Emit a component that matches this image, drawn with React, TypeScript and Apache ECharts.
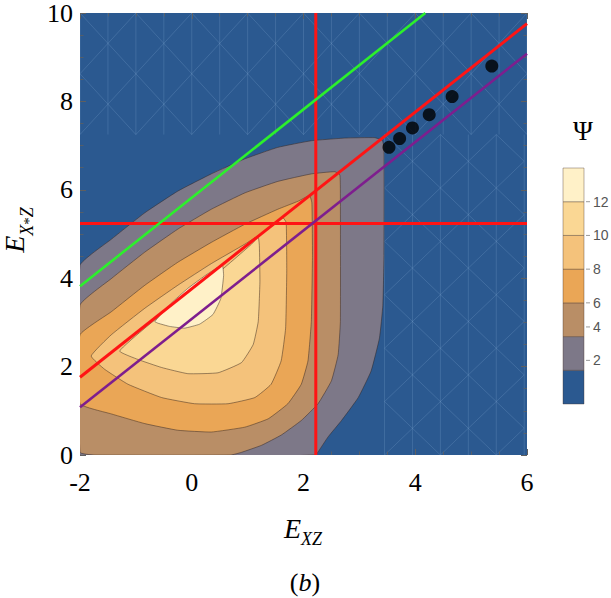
import React, { useEffect, useRef } from "react";
import * as echarts from "echarts";

// ---- axes ----
const xRange = [-2, 6];
const yRange = [0, 10];
const tickStep = 2;

// ---- filled contour bands of Ψ (outermost band = background) ----
const bandColors = ["#2B5990", "#7D7888", "#B98E66", "#EAA656", "#F4C27B", "#FAD794", "#FFF1C8"];
const contourLevels = [1.5, 3.2, 6, 8, 10, 12];
const legendTicks = [2, 4, 6, 8, 10, 12];

// closed boundaries (E_XZ, E_X*Z) of the superlevel sets, one per contour level
const regionLevel1: [number, number][] = [
  [-2, 0], [-2, 4.29], [-1.44, 4.88], [-0.84, 5.48], [-0.25, 5.97], [0.35, 6.36], [0.95, 6.7],
  [1.54, 6.96], [2.14, 7.11], [2.74, 7.17], [3.27, 7.18], [3.41, 7.12], [3.44, 6.94],
  [3.44, 4.51], [3.42, 3.39], [3.36, 2.65], [3.21, 1.9], [2.98, 1.3], [2.68, 0.78],
  [2.44, 0.41], [2.26, 0.07], [2.21, 0],
];
const regionLevel2: [number, number][] = [
  [-2, 0.06], [-2, 3.39], [-1.44, 3.99], [-0.84, 4.59], [-0.25, 5.11], [0.35, 5.56], [0.95, 5.93],
  [1.54, 6.19], [2.14, 6.36], [2.56, 6.41], [2.65, 6.34], [2.66, 6.0], [2.66, 3.02],
  [2.62, 2.27], [2.5, 1.68], [2.26, 1.16], [1.96, 0.78], [1.6, 0.45], [1.25, 0.22],
  [0.89, 0.06], [0.7, 0], [-1.75, 0],
];
const regionLevel3: [number, number][] = [
  [-2, 2.72], [-1.44, 3.24], [-0.84, 3.84], [-0.25, 4.36], [0.35, 4.81], [0.95, 5.22],
  [1.54, 5.56], [1.9, 5.74], [2.11, 5.87], [2.15, 5.7], [2.16, 4.51], [2.14, 3.02],
  [2.08, 2.13], [1.96, 1.6], [1.72, 1.16], [1.37, 0.82], [0.95, 0.63], [0.35, 0.52],
  [-0.25, 0.56], [-0.84, 0.71], [-1.44, 0.93], [-2, 1.16],
];
const regionLevel4: [number, number][] = [
  [-1.8, 2.24], [-1.44, 2.72], [-0.84, 3.32], [-0.25, 3.84], [0.35, 4.33], [0.95, 4.77],
  [1.37, 5.11], [1.63, 5.37], [1.69, 5.26], [1.7, 4.14], [1.68, 2.87], [1.6, 2.13],
  [1.42, 1.6], [1.13, 1.3], [0.65, 1.16], [0.05, 1.16], [-0.54, 1.3], [-1.14, 1.6], [-1.56, 1.94],
];
const regionLevel5: [number, number][] = [
  [-1.29, 2.35], [-0.84, 2.87], [-0.25, 3.47], [0.35, 3.99], [0.77, 4.44], [1.07, 4.77],
  [1.19, 4.92], [1.21, 4.74], [1.22, 3.92], [1.19, 3.02], [1.1, 2.5], [0.89, 2.09],
  [0.47, 1.86], [-0.07, 1.84], [-0.54, 1.98], [-0.96, 2.16],
];
const regionLevel6: [number, number][] = [
  [-0.66, 3.02], [-0.37, 3.43], [-0.07, 3.77], [0.23, 4.05], [0.47, 4.25], [0.55, 4.3],
  [0.57, 4.06], [0.52, 3.54], [0.38, 3.18], [0.14, 2.96], [-0.13, 2.87], [-0.4, 2.91], [-0.6, 2.98],
];
const contourRegions = [regionLevel1, regionLevel2, regionLevel3, regionLevel4, regionLevel5, regionLevel6];

// blue zones where the sampling mesh shows through: [xMin, xMax, yMin, yMax]
const meshZones: [number, number, number, number][] = [
  [-2, 6, 7.25, 10],
  [3.45, 6, 0, 7.25],
];
const meshStep = 0.5;

// ---- reference lines ----
const verticalX = 2.22;
const horizontalY = 5.24;
const redLine: [number, number][] = [[-2, 1.76], [6, 9.76]];
const purpleLine: [number, number][] = [[-2, 1.08], [6, 9.08]];
const greenLine: [number, number][] = [[-2, 3.82], [4.18, 10]];

// ---- points ----
const pointsX = [3.53, 3.72, 3.95, 4.25, 4.66, 5.37];
const pointsY = [6.96, 7.16, 7.4, 7.7, 8.11, 8.8];

// ---- layout ----
const GRID = { left: 80, top: 8, width: 447, height: 447 };
const BAR = { x: 563, top: 168, width: 21, height: 236 };
const SERIF = "'Liberation Serif', 'DejaVu Serif', serif";
const SANS = "'Liberation Sans', Arial, sans-serif";

const bandH = BAR.height / bandColors.length;
const barBottom = BAR.top + BAR.height;

function legendY(v: number): number {
  let i = 0;
  while (i < contourLevels.length && v >= contourLevels[i]) i++;
  const lo = contourLevels[i - 1];
  const hi = i < contourLevels.length ? contourLevels[i] : lo + 2;
  const frac = (v - lo) / (hi - lo);
  return barBottom - (i + frac) * bandH;
}

function meshSegments(zone: [number, number, number, number]): [number, number][][] {
  const [x0, x1, y0, y1] = zone;
  const segs: [number, number][][] = [];
  const nx = Math.round((x1 - x0) / meshStep);
  const dy = (y1 - y0) / Math.max(1, Math.round((y1 - y0) / (meshStep * 1.25)));
  const ny = Math.round((y1 - y0) / dy);
  for (let i = 0; i <= nx; i++) {
    const x = Math.min(x1, x0 + i * meshStep);
    segs.push([[x, y0], [x, y1]]);
  }
  for (let i = 0; i < nx; i++) {
    const xa = x0 + i * meshStep;
    const xb = Math.min(x1, xa + meshStep);
    for (let j = 0; j < ny; j++) {
      const ya = y0 + j * dy;
      const yb = ya + dy;
      if ((i + j) % 2 === 0) segs.push([[xa, ya], [xb, yb]]);
      else segs.push([[xa, yb], [xb, ya]]);
    }
  }
  return segs;
}

function buildOption(): echarts.EChartsOption {
  const tickColor = "#5f5f5f";
  const axisBase: any = {
    type: "value",
    axisLine: { show: false, onZero: false },
    splitLine: { show: false },
    axisTick: { show: true, inside: true, length: 6, lineStyle: { color: tickColor, width: 1 } },
    minorTick: { show: true, splitNumber: 4, length: 3.5, lineStyle: { color: tickColor, width: 0.8 } },
  };

  const colorbar: any[] = [];
  bandColors.forEach((c, i) => {
    colorbar.push({
      type: "rect",
      shape: { x: BAR.x, y: barBottom - (i + 1) * bandH, width: BAR.width, height: bandH },
      style: { fill: c, stroke: "rgba(70,50,40,0.55)", lineWidth: 0.7 },
    });
  });
  legendTicks.forEach((t) => {
    const y = legendY(t);
    colorbar.push({
      type: "line",
      shape: { x1: BAR.x + BAR.width + 2, y1: y, x2: BAR.x + BAR.width + 6, y2: y },
      style: { stroke: "#9a9a9a", lineWidth: 1 },
    });
    colorbar.push({
      type: "text",
      x: BAR.x + BAR.width + 9,
      y,
      style: { text: String(t), fontFamily: SANS, fontSize: 14, fill: "#555", align: "left", verticalAlign: "middle" },
    });
  });
  colorbar.push({
    type: "text",
    x: 583,
    y: 131,
    style: { text: "Ψ", fontFamily: SERIF, fontSize: 27, fill: "#000", align: "center", verticalAlign: "middle" },
  });

  const titleRich = {
    e: { fontFamily: SERIF, fontStyle: "italic", fontSize: 28, lineHeight: 40, fill: "#000" },
    s: { fontFamily: SERIF, fontStyle: "italic", fontSize: 18, lineHeight: 25, verticalAlign: "bottom", fill: "#000" },
    p: { fontFamily: SERIF, fontSize: 15, lineHeight: 44, verticalAlign: "bottom", fill: "#000" },
  };

  const lineSeries = (data: [number, number][], color: string, width: number, z: number) => ({
    type: "line",
    data,
    symbol: "none",
    silent: true,
    lineStyle: { color, width },
    z,
  });

  return {
    animation: false,
    grid: { ...GRID, show: true, backgroundColor: bandColors[0], borderWidth: 0 },
    xAxis: [
      {
        ...axisBase,
        position: "bottom",
        min: xRange[0],
        max: xRange[1],
        interval: tickStep,
        axisLabel: {
          fontFamily: SERIF,
          fontSize: 26,
          color: "#000",
          margin: 14,
          formatter: (v: number) => (v < 0 ? "-" + -v : String(v)),
        },
      },
      { ...axisBase, position: "top", min: xRange[0], max: xRange[1], interval: tickStep, axisLabel: { show: false } },
    ],
    yAxis: [
      {
        ...axisBase,
        position: "left",
        min: yRange[0],
        max: yRange[1],
        interval: tickStep,
        axisLabel: { fontFamily: SERIF, fontSize: 26, color: "#000", margin: 7 },
      },
      { ...axisBase, position: "right", min: yRange[0], max: yRange[1], interval: tickStep, axisLabel: { show: false } },
    ],
    series: [
      {
        type: "custom",
        coordinateSystem: "cartesian2d",
        clip: true,
        silent: true,
        z: 0,
        data: meshZones.map((zn, i) => [zn[0], zn[2], i]),
        renderItem: (params: any, api: any) => ({
          type: "group",
          children: meshSegments(meshZones[params.dataIndex]).map((s) => {
            const a = api.coord(s[0]);
            const b = api.coord(s[1]);
            return {
              type: "line",
              shape: { x1: a[0], y1: a[1], x2: b[0], y2: b[1] },
              style: { stroke: "rgba(170,200,235,0.22)", lineWidth: 0.8 },
            };
          }),
        }),
      } as any,
      {
        type: "custom",
        coordinateSystem: "cartesian2d",
        clip: true,
        silent: true,
        z: 1,
        data: contourRegions.map((r, i) => [r[0][0], r[0][1], i]),
        renderItem: (params: any, api: any) => {
          const pts = contourRegions[params.dataIndex].map((p) => api.coord(p));
          return {
            type: "polygon",
            shape: { points: pts, smooth: 0.12 },
            style: { fill: bandColors[params.dataIndex + 1], stroke: "rgba(50,35,30,0.6)", lineWidth: 0.8 },
          };
        },
      } as any,
      lineSeries([[verticalX, yRange[0]], [verticalX, yRange[1]]], "#FF1414", 3, 3),
      lineSeries([[xRange[0], horizontalY], [xRange[1], horizontalY]], "#FF1414", 3, 3),
      lineSeries(greenLine, "#2CF02C", 2.6, 4),
      lineSeries(redLine, "#FF1414", 3, 4),
      lineSeries(purpleLine, "#7E1E8E", 2.6, 4),
      {
        type: "scatter",
        data: pointsX.map((x, i) => [x, pointsY[i]]),
        symbol: "circle",
        symbolSize: 13,
        itemStyle: { color: "#000" },
        silent: true,
        z: 6,
      },
    ] as any,
    graphic: [
      ...colorbar,
      {
        type: "text",
        x: 303,
        y: 528,
        style: { text: "{e|E}{s|XZ}", rich: titleRich, align: "center", verticalAlign: "middle" },
      },
      {
        type: "text",
        x: 14,
        y: 230,
        rotation: Math.PI / 2,
        style: { text: "{e|E}{s|X}{p|*}{s|Z}", rich: titleRich, align: "center", verticalAlign: "middle" },
      },
      {
        type: "text",
        x: 305,
        y: 582,
        style: {
          text: "{n|(}{i|b}{n|)}",
          rich: {
            n: { fontFamily: SERIF, fontSize: 26, fill: "#000" },
            i: { fontFamily: SERIF, fontStyle: "italic", fontSize: 26, fill: "#000" },
          },
          align: "center",
          verticalAlign: "middle",
        },
      },
    ] as any,
  };
}

export default function App() {
  const ref = useRef<HTMLDivElement>(null);
  useEffect(() => {
    const chart = echarts.init(ref.current!, null, { renderer: "svg" });
    chart.setOption(buildOption());
    return () => chart.dispose();
  }, []);
  return <div ref={ref} style={{ position: "fixed", left: 0, top: 0, width: 611, height: 598, background: "#fff" }} />;
}
